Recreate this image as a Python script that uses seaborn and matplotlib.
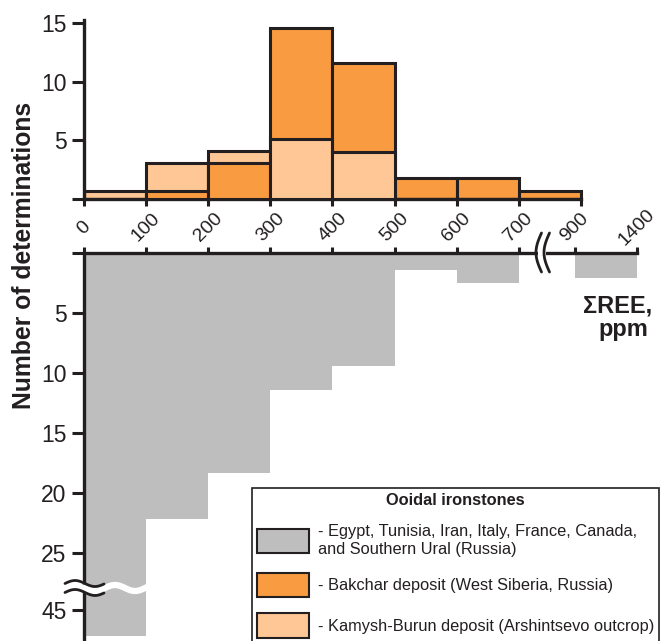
import numpy as np
import pandas as pd
import matplotlib
matplotlib.use("Agg")
import matplotlib.pyplot as plt
import seaborn as sns
from matplotlib.patches import Patch
from matplotlib.lines import Line2D

# ---------------- data ----------------
ree_labels = ["0", "100", "200", "300", "400", "500", "600", "700", "900", "1400"]
top_bins = ["0-100", "100-200", "200-300", "300-400", "400-500",
            "500-600", "600-700", "700-900"]
bakchar = [0.0, 0.7, 3.1, 14.6, 11.6, 1.8, 1.8, 0.7]
kamysh = [0.7, 3.1, 4.1, 5.1, 4.0, 0.0, 0.0, 0.0]
world_bins = ["0-100", "100-200", "200-300", "300-400", "400-500",
              "500-600", "600-700", "700-900", "900-1400"]
world = [47.2, 22.2, 18.3, 11.4, 9.4, 1.4, 2.5, 0.0, 2.1]
top_yticks = [0, 5, 10, 15]
bottom_yticks = [0, 5, 10, 15, 20, 25, 45]

# broken-axis positions of the bin edges
top_edges = [0.0, 1.0, 2.0, 3.0, 4.0, 5.0, 6.0, 7.0, 8.0]
bottom_edges = [0.0, 1.0, 2.0, 3.0, 4.0, 5.0, 6.0, 7.0, 7.9, 8.9]

def brk(v):
    """map counts onto the broken (25 -> 45) y axis"""
    return v if v <= 27.5 else v - 15.25

# ---------------- style ----------------
sns.set_style("ticks")
plt.rcParams["font.family"] = ["Liberation Sans", "DejaVu Sans"]
INK = "#231F20"
ORANGE = "#F99B40"
LIGHT = "#FEC795"
GRAY = "#BEBEBE"
plt.rcParams["text.color"] = INK
plt.rcParams["axes.edgecolor"] = INK
plt.rcParams["xtick.color"] = INK
plt.rcParams["ytick.color"] = INK

W, H = 661, 641
fig = plt.figure(figsize=(W / 100, H / 100), dpi=100)

def fx(x):
    return np.asarray(x) / W

def fy(y):
    return 1 - np.asarray(y) / H

unit_x = 62.1
xmax = 8.9
ax_w = xmax * unit_x / W

top_unit = 11.73
top_ymax = 15.3
ax_top = fig.add_axes([fx(84), fy(199), ax_w, top_ymax * top_unit / H])
bot_unit = 12.0
bot_ymax = (H - 253) / bot_unit
ax_bot = fig.add_axes([fx(84), 0, ax_w, (H - 253) / H])

# ---------- top: overlapping histograms ----------
e_top = np.array(top_edges)
centers_top = (e_top[:-1] + e_top[1:]) / 2
df_top = pd.DataFrame({"bin": top_bins, "pos": centers_top,
                       "bakchar": bakchar, "kamysh": kamysh})
sns.histplot(data=df_top, x="pos", weights="bakchar", bins=top_edges, ax=ax_top,
             color=ORANGE, edgecolor=INK, linewidth=2.2, alpha=1)
n_b = len(ax_top.patches)
sns.histplot(data=df_top, x="pos", weights="kamysh", bins=top_edges, ax=ax_top,
             color=LIGHT, edgecolor=INK, linewidth=2.2, alpha=1)
pb = ax_top.patches[:n_b]
pk = ax_top.patches[n_b:]
for i in range(len(top_bins)):
    pb[i].set_facecolor(ORANGE)
    pk[i].set_facecolor(LIGHT)
    if bakchar[i] >= kamysh[i]:
        pb[i].set_zorder(2); pk[i].set_zorder(3)
    else:
        pb[i].set_zorder(3); pk[i].set_zorder(2)

ax_top.set_xlim(0, xmax)
ax_top.set_ylim(0, top_ymax)
ax_top.set_xlabel("")
ax_top.set_ylabel("")
ax_top.set_xticks(top_edges)
ax_top.set_xticklabels([])
ax_top.set_yticks(top_yticks)
ax_top.set_yticklabels(["" if t == 0 else str(t) for t in top_yticks])
ax_top.tick_params(axis="y", direction="out", length=8.6, width=2.2, pad=4,
                   labelsize=16.5)
ax_top.tick_params(axis="x", direction="out", length=5, width=2.2)
for s in ["top", "right"]:
    ax_top.spines[s].set_visible(False)
for s in ["left", "bottom"]:
    ax_top.spines[s].set_linewidth(2.4)
ax_top.spines["bottom"].set_bounds(0, 8)
ax_top.patch.set_alpha(0)

# ---------- bottom: world ooidal ironstones ----------
e_bot = np.array(bottom_edges)
centers_bot = (e_bot[:-1] + e_bot[1:]) / 2
df_bot = pd.DataFrame({"bin": world_bins, "pos": centers_bot,
                       "count": [brk(v) for v in world]})
sns.histplot(data=df_bot, x="pos", weights="count", bins=bottom_edges, ax=ax_bot,
             color=GRAY, edgecolor="none", linewidth=0, alpha=1)
for p in ax_bot.patches:
    p.set_facecolor(GRAY)
ax_bot.set_xlim(0, xmax)
ax_bot.set_ylim(bot_ymax, 0)
ax_bot.set_xlabel("")
ax_bot.set_ylabel("")
ax_bot.xaxis.tick_top()
ax_bot.set_xticks(bottom_edges)
ax_bot.set_xticklabels(ree_labels, rotation=45, ha="center", va="center",
                       rotation_mode="anchor")
ax_bot.tick_params(axis="x", direction="out", length=4.3, width=2.2, pad=14,
                   labelsize=14)
ax_bot.set_yticks([brk(t) for t in bottom_yticks])
ax_bot.set_yticklabels(["" if t == 0 else str(t) for t in bottom_yticks])
ax_bot.tick_params(axis="y", direction="out", length=8.6, width=2.2, pad=4,
                   labelsize=16.5)
for s in ["bottom", "right"]:
    ax_bot.spines[s].set_visible(False)
for s in ["left", "top"]:
    ax_bot.spines[s].set_linewidth(2.4)
ax_bot.patch.set_alpha(0)

# ---------- axis-break decorations ----------
t = np.linspace(0, 1, 40)
fig.add_artist(Line2D([fx(538), fx(546)], [fy(253), fy(253)], color="white",
                      lw=4, solid_capstyle="butt"))
for xr in (541.5, 549.5):
    xs = xr - 5.5 * np.sin(np.pi * t)
    ys = 233 + 39 * t
    fig.add_artist(Line2D(fx(xs), fy(ys), color=INK, lw=2.0))
xw = np.linspace(84, 148, 60)
fig.add_artist(Line2D(fx(xw), fy(588 - 3 * np.sin(2 * np.pi * (xw - 65) / 40)),
                      color="white", lw=4.5))
xb = np.linspace(65, 104, 40)
for yc in (583.5, 592.5):
    fig.add_artist(Line2D(fx(xb), fy(yc - 3 * np.sin(2 * np.pi * (xb - 65) / 40)),
                          color=INK, lw=2.0))

# ---------- texts ----------
fig.text(fx(24), fy(255), "Number of determinations", rotation=90, ha="center",
         va="center", fontsize=17.8, fontweight="bold")
fig.text(fx(652), fy(312), "ΣREE,", ha="right", va="baseline", fontsize=17,
         fontweight="bold")
fig.text(fx(648), fy(336), "ppm", ha="right", va="baseline", fontsize=17,
         fontweight="bold")

# ---------- legend ----------
handles = [Patch(facecolor=GRAY, edgecolor=INK, linewidth=1.5),
           Patch(facecolor=ORANGE, edgecolor=INK, linewidth=1.5),
           Patch(facecolor=LIGHT, edgecolor=INK, linewidth=1.5)]
labels = ["- Egypt, Tunisia, Iran, Italy, France, Canada,\nand Southern Ural (Russia)",
          "- Bakchar deposit (West Siberia, Russia)",
          "- Kamysh-Burun deposit (Arshintsevo outcrop)"]
leg = fig.legend(handles, labels, title="Ooidal ironstones", loc="upper left",
                 bbox_to_anchor=(fx(252), fy(488)), bbox_transform=fig.transFigure,
                 borderaxespad=0, frameon=True, fancybox=False, framealpha=1,
                 edgecolor=INK, fontsize=11.8,
                 title_fontproperties={"weight": "bold", "size": 11.8},
                 handlelength=3.2, handleheight=1.9, handletextpad=0.5,
                 labelspacing=0.99, borderpad=0.3)
leg.get_frame().set_linewidth(1.2)

fig.savefig("out.png", dpi=100)
